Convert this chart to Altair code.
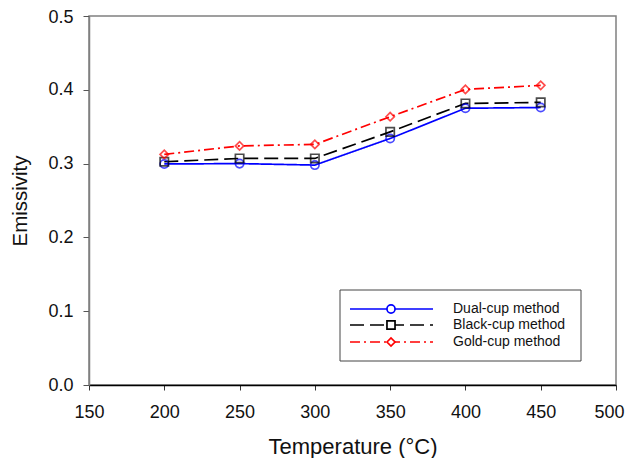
import altair as alt
import pandas as pd

temps = [200, 250, 300, 350, 400, 450]
dual_cup = [0.2995, 0.300, 0.298, 0.334, 0.375, 0.376]
black_cup = [0.3025, 0.307, 0.307, 0.343, 0.3815, 0.383]
gold_cup = [0.3125, 0.324, 0.326, 0.3635, 0.4005, 0.406]
series_names = ["Dual-cup method", "Black-cup method", "Gold-cup method"]
colors = ["#0000FF", "#000000", "#FF0000"]
shapes = ["circle", "square", "diamond"]
dashes = [[1, 0], [14, 6], [10, 4, 2, 4]]

rows = []
for name, vals in zip(series_names, [dual_cup, black_cup, gold_cup]):
    for t, v in zip(temps, vals):
        rows.append({"Temperature": t, "Emissivity": v, "Series": name})
df = pd.DataFrame(rows)

W, H = 527, 369

xs = alt.X("Temperature:Q", scale=alt.Scale(domain=[150, 500], nice=False, zero=False),
           axis=alt.Axis(title="Temperature (°C)", values=[150, 200, 250, 300, 350, 400, 450, 500],
                         format="d", domainColor="#000000", tickColor="#333333",
                         titleFontSize=22, titleFontWeight="normal", titlePadding=15,
                         labelFontSize=18, labelPadding=13, tickSize=5, labelFlush=False,
                         labelOffset={"condition": {"test": "datum.value == 500", "value": -7}, "value": 0}))
ys = alt.Y("Emissivity:Q", scale=alt.Scale(domain=[0, 0.5], nice=False),
           axis=alt.Axis(title="Emissivity", values=[0, 0.1, 0.2, 0.3, 0.4, 0.5], format=".1f",
                         domainColor="#808080", tickColor="#555555",
                         titleFontSize=20.5, titleFontWeight="normal", titlePadding=17,
                         labelFontSize=18, labelPadding=10, tickSize=6, labelFlush=False,
                         labelOffset={"condition": {"test": "datum.value == 0.5", "value": 1.5}, "value": 0}))

color = alt.Color("Series:N", scale=alt.Scale(domain=series_names, range=colors), legend=None)
dash = alt.StrokeDash("Series:N", scale=alt.Scale(domain=series_names, range=dashes), legend=None)
shape = alt.Shape("Series:N", scale=alt.Scale(domain=series_names, range=shapes), legend=None)

lines = alt.Chart(df).mark_line(strokeWidth=1.7).encode(x=xs, y=ys, color=color, strokeDash=dash, detail="Series:N")
points = alt.Chart(df).mark_point(filled=False, size=70, strokeWidth=1.7).encode(
    x="Temperature:Q", y="Emissivity:Q", color=color, shape=shape)

# legend
box = alt.Chart(pd.DataFrame({"a": [0]})).mark_rect(fill="white", stroke="#444444", strokeWidth=1).encode(
    x=alt.value(251), x2=alt.value(492), y=alt.value(274), y2=alt.value(345))
legend_layers = [box]
row_y = [293, 309, 326]
for name, c, s, d, yy in zip(series_names, colors, shapes, dashes, row_y):
    ld = pd.DataFrame({"label": [name]})
    legend_layers.append(alt.Chart(ld).mark_rule(color=c, strokeWidth=1.7, strokeDash=d).encode(
        x=alt.value(261), x2=alt.value(344), y=alt.value(yy)))
    legend_layers.append(alt.Chart(ld).mark_point(shape=s, color=c, filled=False, size=65, strokeWidth=1.7,
                                                   fill="white", fillOpacity=1).encode(
        x=alt.value(302), y=alt.value(yy)))
    legend_layers.append(alt.Chart(ld).mark_text(align="left", baseline="middle", fontSize=14,
                                                  font="Liberation Sans", color="#111111").encode(
        x=alt.value(364), y=alt.value(yy), text="label:N"))

chart = alt.layer(lines, points, *legend_layers).properties(
    width=W, height=H,
    autosize=alt.AutoSizeParams(type="none"),
    padding={"left": 81, "top": 8, "right": 9, "bottom": 73},
).configure_view(stroke="#808080", strokeWidth=1.5).configure_axis(
    grid=False, labelFont="Liberation Sans", titleFont="Liberation Sans",
    labelColor="#111111", titleColor="#111111", domainWidth=1.5
)

chart.save("out.html", embed_options={"renderer": "svg", "actions": False})
